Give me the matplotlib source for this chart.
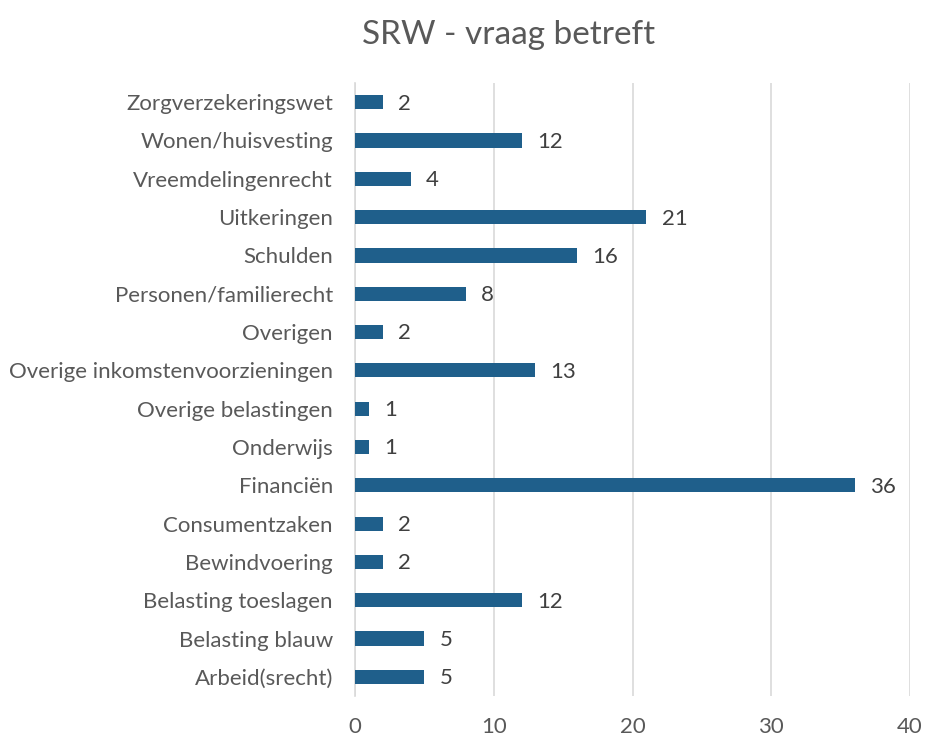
"""SRW - vraag betreft: horizontal bar chart."""

import matplotlib

matplotlib.use("Agg")
import matplotlib.pyplot as plt

categories = [
    "Arbeid(srecht)",
    "Belasting blauw",
    "Belasting toeslagen",
    "Bewindvoering",
    "Consumentzaken",
    "Financiën",
    "Onderwijs",
    "Overige belastingen",
    "Overige inkomstenvoorzieningen",
    "Overigen",
    "Personen/familierecht",
    "Schulden",
    "Uitkeringen",
    "Vreemdelingenrecht",
    "Wonen/huisvesting",
    "Zorgverzekeringswet",
]
counts = [5, 5, 12, 2, 2, 36, 1, 1, 13, 2, 8, 16, 21, 4, 12, 2]
x_ticks = [0, 10, 20, 30, 40]

plt.rcParams["font.family"] = ["Lato", "DejaVu Sans"]
text_color = "#595959"
bar_color = "#1F5F8B"

fig = plt.figure(figsize=(9.27, 7.36), dpi=100)
ax = fig.add_axes([0.383, 0.0543, 0.5987, 0.8329])

pos = range(len(categories))
ax.barh(pos, counts, height=0.37, color=bar_color, zorder=3)
for y, v in zip(pos, counts):
    ax.annotate(str(v), (v, y), xytext=(11, -1), textcoords="offset points",
                va="center", ha="left", fontsize=16, color="#404040")

ax.set_xlim(0, 40)
ax.set_ylim(-0.5, len(categories) - 0.5)
ax.set_xticks(x_ticks)
ax.set_yticks(list(pos), categories)
ax.tick_params(axis="both", length=0, labelsize=16, colors=text_color)
ax.tick_params(axis="y", pad=16)
ax.tick_params(axis="x", pad=15)
ax.grid(axis="x", color="#D9D9D9", linewidth=1.2, zorder=0)
for side in ["top", "right", "bottom"]:
    ax.spines[side].set_visible(False)
ax.spines["left"].set_color("#D9D9D9")
ax.spines["left"].set_linewidth(1.2)

fig.text(0.549, 0.952, "SRW - vraag betreft", ha="center", va="center",
         fontsize=24, color=text_color)

fig.savefig("out.png", dpi=100, facecolor="white")
